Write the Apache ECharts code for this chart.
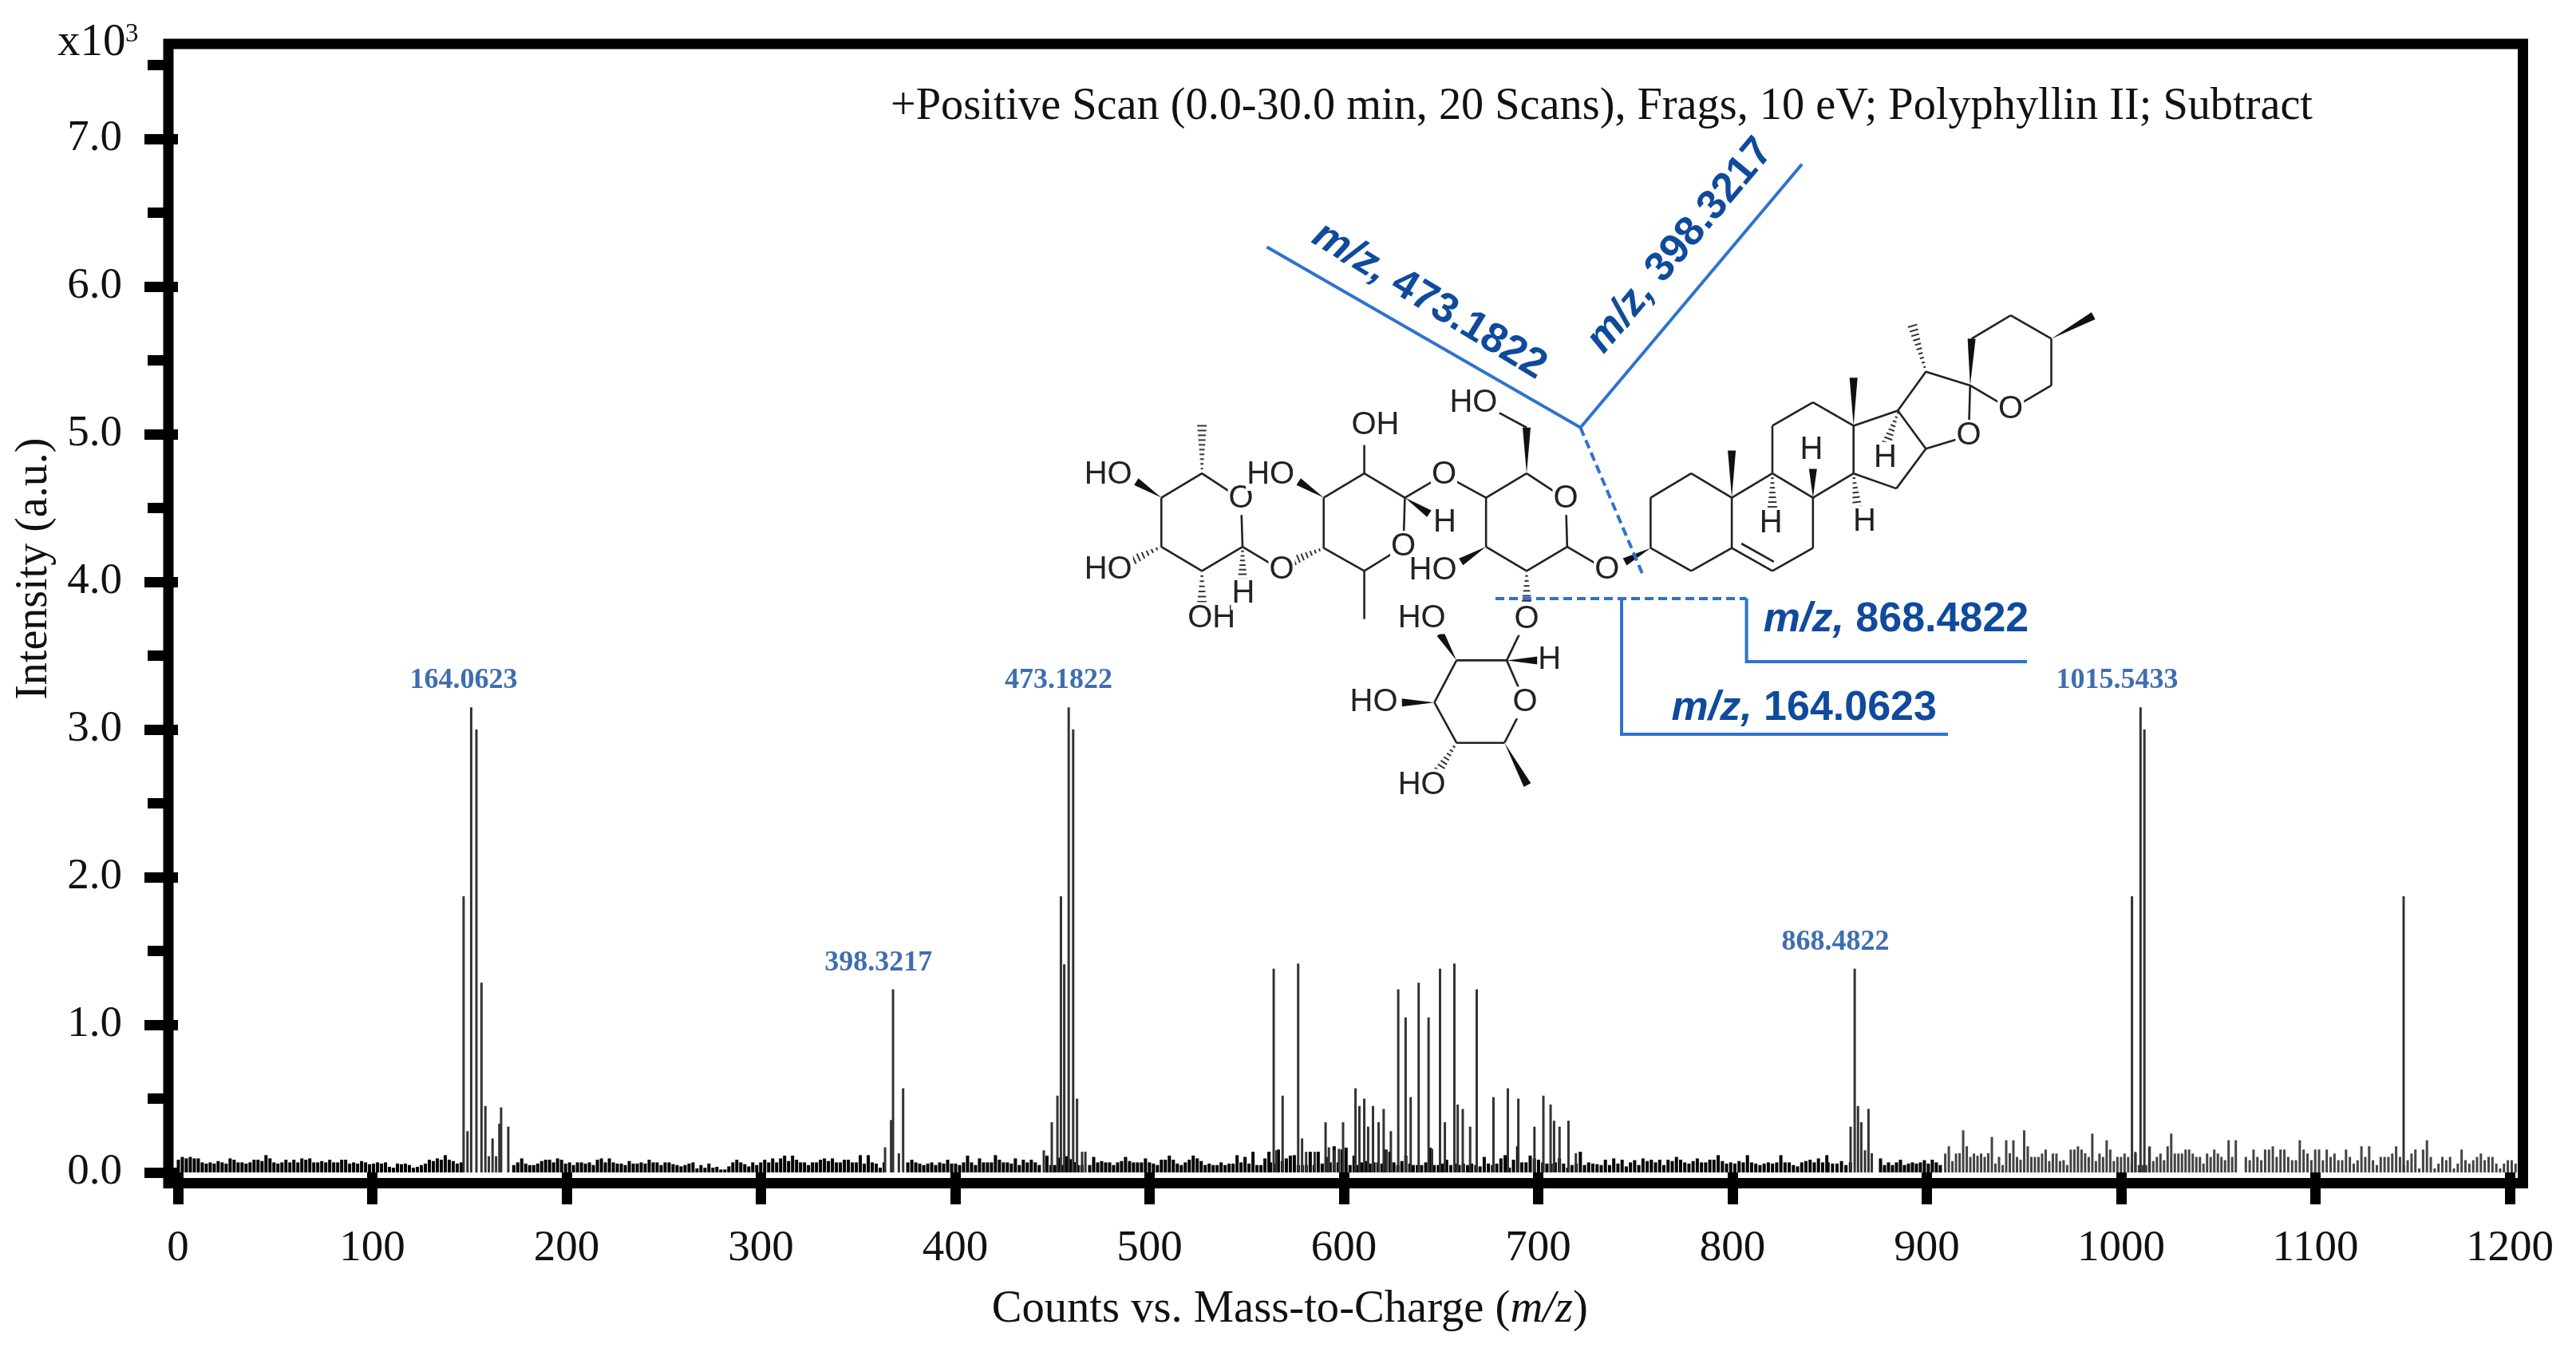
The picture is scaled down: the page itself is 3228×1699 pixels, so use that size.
<!DOCTYPE html>
<html><head><meta charset="utf-8">
<style>html,body{margin:0;padding:0;background:#fff}#c{width:3228px;height:1699px}</style>
<script src="https://cdn.jsdelivr.net/npm/echarts@6/dist/echarts.min.js"></script>
</head><body><div id="c"></div>
<script>
// ---------- chart data (intensity in x10^3 counts) ----------
const xTicks = [0,100,200,300,400,500,600,700,800,900,1000,1100,1200];
const yMajorTicks = [0,1,2,3,4,5,6,7];
const yMinorTicks = [0.5,1.5,2.5,3.5,4.5,5.5,6.5,7.5];

const peakMz = [147,149,150.9,153.6,156.2,158.2,160,161.9,163.7,165.4,166.3,170,
 363.9,367,368,371,373.2,
 445.6,449.7,452.6,454.4,456.1,458.4,460.7,462.7,465.3,467,
 563.9,565.3,568.5,576.5,578.5,580.6,585,590.6,592.3,595,597.5,599.6,
 606,608,610.5,612.5,615,617.9,620.5,622,624.2,628,631.8,634.4,638.5,643.6,645.4,649.5,652,656.9,658.6,661.2,665,668.4,
 677,684.4,689.8,698.1,702.7,706.4,708.2,711,715.6,719.4,
 860.8,862.9,864.6,866.3,868.2,870,871.7,
 1005.6,1007.4,1010,1012,1014.5,1145.4];
const peakHeight = [1.87,0.28,3.15,3.0,1.285,0.45,0.11,0.23,0.11,0.33,0.44,0.31,
 0.17,0.355,1.24,0.13,0.57,
 0.15,0.34,0.52,1.87,1.41,3.15,3.0,0.5,0.14,0.14,
 1.38,0.15,0.52,1.415,0.23,0.14,0.14,0.34,0.17,0.15,0.16,0.34,
 0.57,0.45,0.5,0.31,0.45,0.34,0.43,0.15,0.28,1.24,1.05,0.51,1.285,1.05,0.16,1.38,0.34,1.415,0.46,0.43,0.31,1.24,
 0.51,0.57,0.5,0.31,0.52,0.46,0.35,0.31,0.35,0.13,
 0.31,1.38,0.45,0.34,0.15,0.43,0.13,
 1.87,0.13,3.15,3.0,0.17,1.87];

// baseline noise, one list per stretch of the spectrum
const noiseA = [.086,.105,.095,.105,.095,.095,.068,.06,.068,.06,.077,.068,.06,.095,.086,.068,.068,.06,.068,.086,.086,.077,.117,.095,.068,.06,.068,.086,.068,.086,.068,.095,.086,.095,.068,.068,.077,.068,.086,.068,.068,.086,.086,.06,.068,.06,.077,.068,.056,.06,.068,.06,.068,.038,.032,.06,.056,.06,.05,.032,.038,.05,.06,.086,.077,.095,.086,.117,.086,.077,.06,.068];
const noiseB = [.05,.068,.095,.06,.05,.05,.06,.077,.086,.086,.068,.095,.086,.06,.068,.05,.068,.068,.06,.068,.05,.086,.095,.068,.095,.068,.06,.06,.05,.077,.06,.06,.068,.06,.086,.068,.068,.05,.068,.068,.056,.05,.041,.05,.06,.068,.027,.05,.032,.06,.032,.038,.02,.02,.041,.068,.086,.068,.056,.041,.068,.05,.068,.086,.068,.095,.068,.095,.114,.077,.114,.086,.068,.068,.05,.068,.068,.086,.095,.077,.095,.068,.068,.086,.086,.068,.068,.117,.06,.117,.068,.06,.032,.068];
const noiseC = [.068,.086,.068,.06,.05,.06,.068,.05,.068,.06,.086,.06,.06,.05,.068,.114,.068,.05,.095,.068,.068,.068,.117,.086,.068,.068,.06,.095,.05,.086,.068,.086,.068,.05];
const noiseD = [.114,.05,.05,.1,.05,.11,.09,.07,.05,.05];
const noiseE = [.05,.105,.068,.077,.068,.068,.05,.068,.077,.105,.077,.068,.068,.068,.095,.068,.06,.05,.086,.086,.114,.086,.06,.05,.068,.086,.114,.095,.077,.05,.06,.05,.05,.068,.05,.06,.06,.117,.068,.105,.06,.14,.05,.05,.095,.14];
const noiseF = [.068,.06,.155,.077,.095,.114,.117,.05,.05,.05,.14,.05,.14,.06,.105,.068,.177,.068,.155,.168,.05,.114,.05,.068,.077,.06,.068,.068,.06,.155,.14,.068,.05,.077,.114,.06];
const noiseG = [.05,.05,.05,.068,.168,.05,.05,.06,.086,.05,.06,.05,.06,.05,.06,.05,.041,.105,.06,.05,.06,.095,.117,.032,.086,.177,.068,.068,.114,.095,.086,.068,.06,.06,.068,.095,.06,.032,.05,.06,.14,.05,.068,.06,.056,.05,.086,.05,.095,.06,.086,.041,.068,.083,.05,.095,.077,.086,.068,.086,.05,.086,.077,.105,.086,.068,.06,.077,.095,.068,.068,.086,.086,.117,.077,.06,.068,.06,.077,.068,.117,.068,.06,.05,.06,.068,.06,.068,.117,.068,.068,.05,.041,.068,.077,.086,.068,.095,.068,.117];
const noiseH = [.068,.06,.06,.077,.05,.068];
const noiseI = [.095,.05,.068,.05,.068,.086,.05,.06,.068,.06,.068,.083,.06,.086,.068,.05];
const combA = [.128,.177,.077,.128,.13,.285,.177,.105,.128,.113,.128,.105,.13,.24,.06,.105,.05,.218,.13,.218,.105,.086,.285,.177,.105,.105,.105,.128,.155,.077,.128,.128,.077,.083,.05,.155,.155,.177,.155,.13,.105,.263,.077,.128,.105,.218,.155,.077,.105,.105,.128,.105,.06,.14,.05,.05,.05,.177,.077,.105,.128,.083,.177,.263,.128,.128,.128,.155,.155,.128,.105,.105,.06,.128,.105,.155,.128,.105,.083,.218,.105,.218];
const combB = [.105,.083,.155,.105,.083,.155,.155,.177,.105,.155,.155,.105,.083,.083,.218,.155,.128,.083,.155,.155,.083,.155,.105,.128,.083,.083,.155,.105,.06,.083,.177,.105,.177,.083,.05,.105,.105,.105,.128,.177,.105,.05,.083,.128,.155,.027,.155,.218,.105,.027,.06,.105,.083,.105,.027,.06,.155,.083,.06,.083,.105,.128,.083,.105,.105,.06,.027,.06,.083,.083,.06];

const peakLabelText = ['164.0623','473.1822','398.3217','868.4822','1015.5433'];
const peakLabelMz = [147,453.2,360.5,853,998];
const peakLabelY = [3.33,3.33,1.42,1.56,3.33];

// ---------- helpers ----------
const pairs = (start, step, vals) => vals.map((v, i) => [+(start + i * step).toFixed(2), v]);
const noiseData = [].concat(
  pairs(0, 2.05, noiseA), pairs(172.6, 2.05, noiseB), pairs(375.4, 2.05, noiseC),
  pairs(447, 2, noiseD), pairs(469, 2.05, noiseE), pairs(562, 2.05, noiseF),
  pairs(635.5, 2.15, noiseG), pairs(849, 2.3, noiseH), pairs(876, 2.05, noiseI));
const combData = [].concat(pairs(909.5, 1.846, combA), pairs(1064.2, 1.983, combB));
const peakData = peakMz.map((m, i) => [m, peakHeight[i]]);
const labelData = peakLabelText.map((t, i) => ({ value: [peakLabelMz[i], peakLabelY[i]], name: t }));

const SERIF = '"Liberation Serif","Times New Roman",serif';
const SANS = '"Liberation Sans",Arial,sans-serif';
const BLUE_LINE = '#2f72cf', BLUE_TEXT = '#0f4a9c', BOND = '#222';

// ---------- molecule illustration and cleavage annotation ----------
const mx = z => 1250 + z / 1.0814, my = z => 150 + z / 1.742;
const g = [];
const bond = (p) => { for (let i = 0; i + 3 < p.length; i += 2) g.push({ type: 'line', z: 10, shape: { x1: mx(p[i]), y1: my(p[i + 1]), x2: mx(p[i + 2]), y2: my(p[i + 3]) }, style: { stroke: BOND, lineWidth: 2.6 } }); };
const wedge = (x1, y1, x2, y2) => {
  const a = [mx(x1), my(y1)], b = [mx(x2), my(y2)], dx = b[0] - a[0], dy = b[1] - a[1], L = Math.hypot(dx, dy), nx = -dy / L * 5, ny = dx / L * 5;
  g.push({ type: 'polygon', z: 10, shape: { points: [a, [b[0] + nx, b[1] + ny], [b[0] - nx, b[1] - ny]] }, style: { fill: '#111' } });
};
const hash = (x1, y1, x2, y2) => {
  const a = [mx(x1), my(y1)], b = [mx(x2), my(y2)], dx = b[0] - a[0], dy = b[1] - a[1], L = Math.hypot(dx, dy), n = Math.max(4, Math.round(L / 6));
  for (let i = 0; i <= n; i++) { const t = i / n, cx = a[0] + dx * t, cy = a[1] + dy * t, w = 1 + 5 * t, nx = -dy / L * w, ny = dx / L * w;
    g.push({ type: 'line', z: 10, shape: { x1: cx - nx, y1: cy - ny, x2: cx + nx, y2: cy + ny }, style: { stroke: '#333', lineWidth: 2 } }); }
};
const atom = (t, x, y) => g.push({ type: 'text', z: 12, x: mx(x), y: my(y), style: { text: t, font: '40px ' + SANS, fill: '#222', align: 'center', verticalAlign: 'middle', backgroundColor: '#fff', padding: [0, 1] } });

// steroid rings
bond([885,825, 940,772, 995,825, 995,935, 940,985, 885,935, 885,825]);
bond([995,825, 1050,772, 1105,825, 1105,935, 1050,985, 995,935]);
bond([1008,925, 1052,965]);
bond([1050,772, 1050,668, 1105,617, 1160,668, 1160,772, 1105,825]);
bond([1160,668, 1220,635, 1258,718, 1218,805, 1160,772]);
bond([1220,635, 1258,550, 1318,580, 1316,690, 1258,718]);
bond([1318,580, 1373,632, 1428,580, 1428,478, 1373,427, 1320,478]);
wedge(995,825, 995,722); wedge(1160,668, 1160,563); wedge(1318,580, 1320,478); wedge(1428,478, 1485,428);
hash(1258,550, 1240,450); hash(1050,772, 1050,845); wedge(1105,825, 1105,762); hash(1220,640, 1205,705); hash(1160,772, 1165,845);
wedge(885,935, 850,965);
// sugar 1
bond([826,983, 772,932, 770,828, 717,772, 662,825, 662,932, 717,985, 772,932]);
wedge(717,772, 717,672); bond([717,672, 680,640]); wedge(662,932, 628,965); hash(717,985, 717,1050);
bond([662,825, 605,775, 552,825]);
// sugar 2
bond([552,825, 497,772, 442,825, 442,935, 497,985, 550,932, 552,825]);
bond([497,772, 497,710]); wedge(442,825, 408,790); wedge(552,825, 585,860); hash(442,935, 402,962); bond([497,985, 497,1090]);
bond([385,983, 332,932]);
// sugar 3
bond([332,932, 330,828, 277,772, 222,825, 222,932, 277,985, 332,932]);
hash(277,772, 277,668); wedge(222,825, 188,790); hash(222,932, 185,960); hash(277,985, 277,1052); hash(332,932, 332,1002);
// sugar 4
bond([717,1090, 690,1180, 715,1272, 687,1360, 622,1360, 592,1272, 622,1180, 690,1180]);
wedge(690,1180, 732,1180); wedge(622,1180, 600,1122); wedge(592,1272, 548,1272); hash(622,1360, 598,1420); wedge(687,1360, 718,1452);
// atoms
[['O',1316,690],['O',1373,632],['H',1103,722],['H',1203,738],['H',1048,882],['H',1175,878],
 ['O',826,983],['O',770,828],['O',605,775],['O',550,932],['O',385,983],['O',330,828],['O',717,1090],['O',715,1272],
 ['HO',645,618],['HO',590,985],['OH',512,668],['HO',370,775],['H',606,880],['HO',150,775],['HO',150,983],['OH',290,1088],['H',333,1035],
 ['H',748,1180],['HO',575,1088],['HO',510,1272],['HO',575,1452]].forEach(a => atom(a[0], a[1], a[2]));

// cleavage lines
const blue = (pts, dash) => g.push({ type: 'polyline', z: 14, shape: { points: pts }, style: { stroke: BLUE_LINE, lineWidth: 4, fill: null, lineDash: dash ? [11, 6] : null } });
blue([[1587.5,309.6],[1980.5,535.8],[2258,205.7]]);
blue([[1980.5,535.8],[2059,721]], true);
blue([[1874,750],[2188.6,750]], true);
blue([[2188.6,750],[2188.6,829],[2540,829]]);
blue([[2032,750],[2032,920],[2441,920]]);
const cleave = (val, x, y, rot) => g.push({ type: 'text', z: 14, x, y, rotation: rot * Math.PI / 180,
  style: { text: '{i|m/z,} {b|' + val + '}', align: 'center', verticalAlign: 'middle', rich: {
    i: { font: 'italic bold 52px ' + SANS, fill: BLUE_TEXT }, b: { font: 'bold 52px ' + SANS, fill: BLUE_TEXT } }, font: 'bold 52px ' + SANS, fill: BLUE_TEXT } });
cleave('473.1822', 1791, 377, -31.4);
cleave('398.3217', 2105.4, 308, 50);
cleave('868.4822', 2376, 777, 0);
cleave('164.0623', 2260.7, 887.6, 0);

// exponent and scan caption
g.push({ type: 'text', z: 20, x: 72, y: 54, style: { text: 'x10', font: '57px ' + SERIF, fill: '#111', align: 'left', verticalAlign: 'middle' } });
g.push({ type: 'text', z: 20, x: 157, y: 43, style: { text: '3', font: '33px ' + SERIF, fill: '#111', align: 'left', verticalAlign: 'middle' } });
g.push({ type: 'text', z: 20, x: 1116, y: 134, style: { text: '+Positive Scan (0.0-30.0 min, 20 Scans), Frags, 10 eV; Polyphyllin II; Subtract', font: '56.3px ' + SERIF, fill: '#111', align: 'left', verticalAlign: 'middle' } });

// ---------- chart ----------
const chart = echarts.init(document.getElementById('c'), null, { renderer: 'canvas' });
const barBase = { type: 'bar', barGap: '-100%', xAxisIndex: 0, yAxisIndex: 0, silent: true };
chart.setOption({
  animation: false,
  backgroundColor: '#fff',
  grid: { left: 211, top: 55, width: 2950.5, height: 1427.5, show: true, borderColor: '#000', borderWidth: 13, backgroundColor: 'transparent', containLabel: false },
  xAxis: {
    type: 'value', min: -4.93, max: 1206.8,
    name: 'Counts vs. Mass-to-Charge ({i|m/z})', nameLocation: 'middle', nameGap: 130,
    nameTextStyle: { fontFamily: SERIF, fontSize: 56.6, color: '#111', padding: [0, 140, 0, 0], rich: { i: { fontFamily: SERIF, fontStyle: 'italic', fontSize: 56.6, color: '#111' } } },
    splitLine: { show: false }, axisLine: { show: false },
    axisTick: { show: true, length: 40, customValues: xTicks, lineStyle: { color: '#000', width: 13 } },
    axisLabel: { show: true, customValues: xTicks, margin: 55, fontFamily: SERIF, fontSize: 55, color: '#111', formatter: v => String(v) }
  },
  yAxis: [{
    type: 'value', min: -0.073, max: 7.643,
    name: 'Intensity (a.u.)', nameLocation: 'middle', nameGap: 140,
    nameTextStyle: { fontFamily: SERIF, fontSize: 56, color: '#111', padding: [0, 0, 0, 112] },
    splitLine: { show: false }, axisLine: { show: false },
    axisTick: { show: true, length: 42, customValues: yMajorTicks, lineStyle: { color: '#000', width: 13 } },
    axisLabel: { show: true, customValues: yMajorTicks, margin: 58, fontFamily: SERIF, fontSize: 55, color: '#111', formatter: v => v.toFixed(1) }
  }, {
    type: 'value', min: -0.073, max: 7.643, position: 'left',
    splitLine: { show: false }, axisLine: { show: false }, axisLabel: { show: false },
    axisTick: { show: true, length: 26, customValues: yMinorTicks, lineStyle: { color: '#000', width: 13 } }
  }],
  series: [
    Object.assign({}, barBase, { name: 'comb', barWidth: 3, itemStyle: { color: '#444' }, data: combData }),
    Object.assign({}, barBase, { name: 'noise', barWidth: 4, itemStyle: { color: '#000' }, data: noiseData }),
    Object.assign({}, barBase, { name: 'peaks', barWidth: 3, itemStyle: { color: '#333' }, data: peakData }),
    { name: 'peak labels', type: 'scatter', symbolSize: 0, silent: true, data: labelData,
      label: { show: true, position: 'inside', formatter: p => p.name, fontFamily: SERIF, fontWeight: 'bold', fontSize: 36, color: BLUE_TEXT } }
  ],
  graphic: { elements: g }
});
</script></body></html>
